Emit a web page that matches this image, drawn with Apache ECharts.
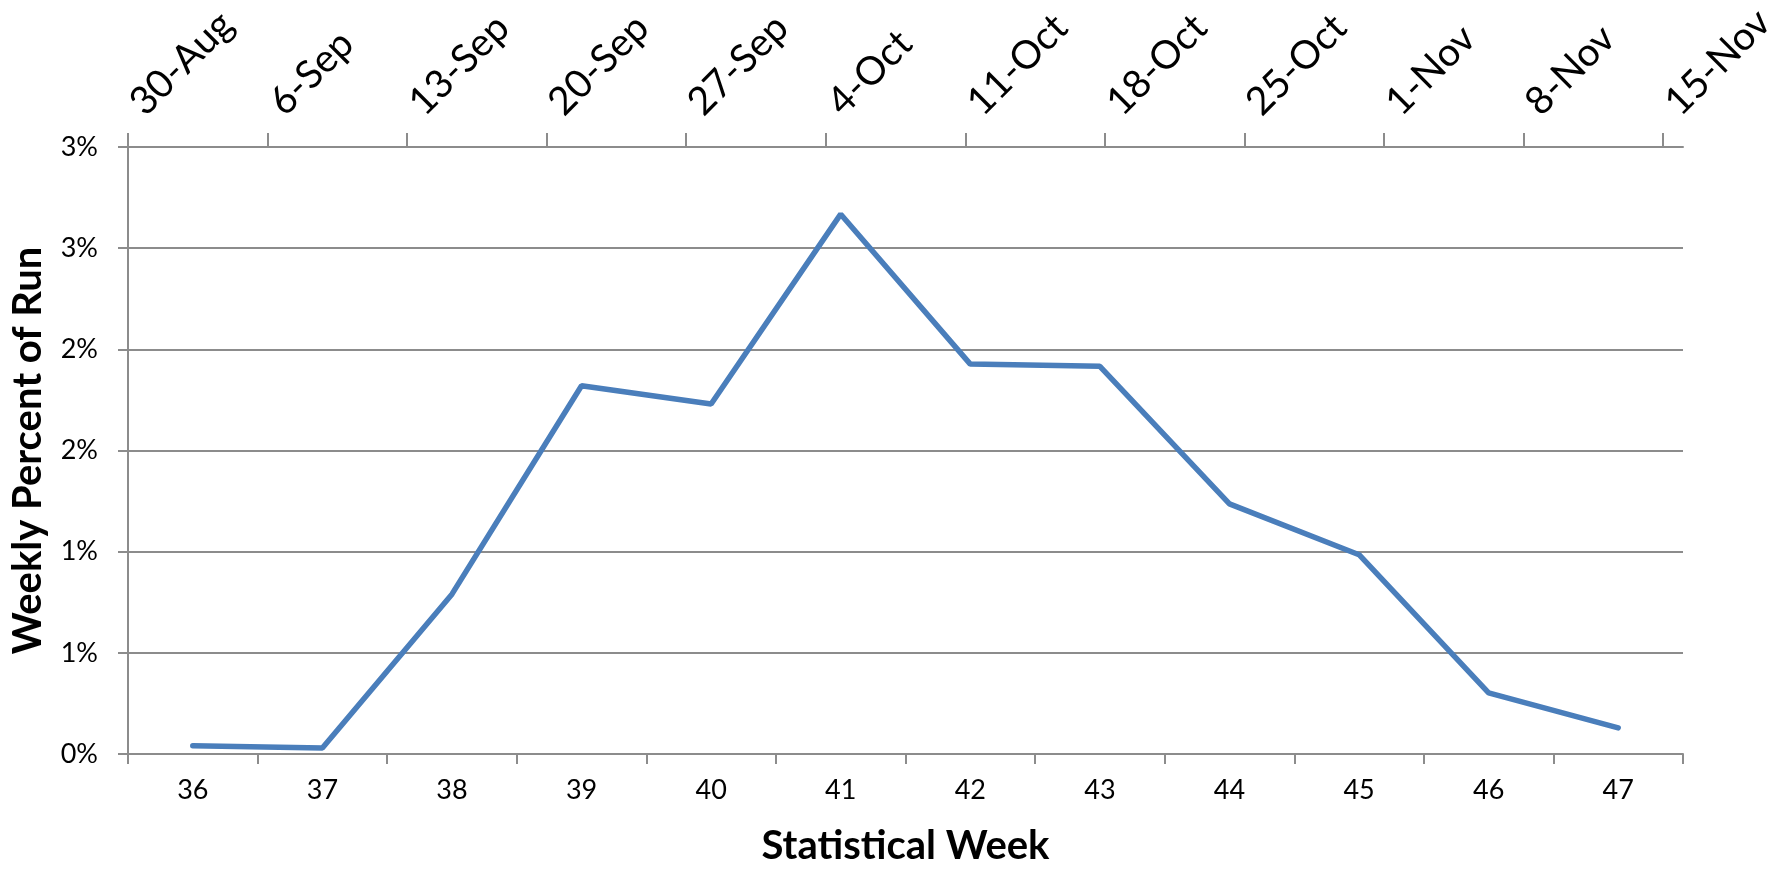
<!DOCTYPE html>
<html>
<head>
<meta charset="utf-8">
<script src="https://cdn.jsdelivr.net/npm/echarts@6/dist/echarts.min.js"></script>
<style>
html,body{margin:0;padding:0;background:#fff;}
#chart{width:1787px;height:871px;}
</style>
</head>
<body>
<div id="chart"></div>
<script>
// Statistical weeks (bottom category axis)
var weeks = ['36','37','38','39','40','41','42','43','44','45','46','47'];
// Weekly percent of run (values in %)
var weeklyPercent = [0.041, 0.030, 0.790, 1.820, 1.730, 2.668, 1.927, 1.916, 1.236, 0.985, 0.302, 0.129];
// Y tick labels (0, 0.5, 1, ... 3 % rounded to whole percent)
var yTickLabels = ['0%','1%','1%','2%','2%','3%','3%'];
// Top date axis: day offsets from 30-Aug and their labels
var dateTickDays = [0, 7, 14, 21, 28, 35, 42, 49, 56, 63, 70, 77];
var dateLabels = ['30-Aug','6-Sep','13-Sep','20-Sep','27-Sep','4-Oct','11-Oct','18-Oct','25-Oct','1-Nov','8-Nov','15-Nov'];
var dateAxisMax = 78;

var FONT = 'Lato';
var GRAY = '#8c8c8c';

var chart = echarts.init(document.getElementById('chart'), null, {renderer: 'canvas'});
chart.setOption({
  animation: false,
  backgroundColor: '#ffffff',
  grid: {left: 128, right: 104, top: 147, bottom: 114, containLabel: false},
  xAxis: [
    {
      type: 'category',
      data: weeks,
      position: 'bottom',
      boundaryGap: true,
      name: 'Statistical Week',
      nameLocation: 'middle',
      nameGap: 72,
      nameTextStyle: {fontFamily: FONT, fontSize: 40, fontWeight: 'bold', color: '#000'},
      axisLine: {show: true, lineStyle: {color: GRAY, width: 2}},
      axisTick: {show: true, alignWithLabel: false, length: 10, lineStyle: {color: GRAY, width: 2}},
      axisLabel: {fontFamily: FONT, fontSize: 27, color: '#000', margin: 23},
      splitLine: {show: false}
    },
    {
      type: 'value',
      position: 'top',
      min: 0,
      max: dateAxisMax,
      axisLine: {show: true, lineStyle: {color: GRAY, width: 2}},
      axisTick: {show: true, length: 14, customValues: dateTickDays, lineStyle: {color: GRAY, width: 2}},
      axisLabel: {
        fontFamily: FONT, fontSize: 39, color: '#000', rotate: -45, margin: 30,
        padding: [0, 0, 0, 12],
        customValues: dateTickDays,
        formatter: function (v) {
          var i = dateTickDays.indexOf(v);
          return i >= 0 ? dateLabels[i] : '';
        }
      },
      splitLine: {show: false}
    }
  ],
  yAxis: {
    type: 'value',
    min: 0,
    max: 3,
    interval: 0.5,
    name: 'Weekly Percent of Run',
    nameLocation: 'middle',
    nameGap: 80,
    nameTextStyle: {fontFamily: FONT, fontSize: 40, fontWeight: 'bold', color: '#000'},
    axisLine: {show: true, lineStyle: {color: GRAY, width: 2}},
    axisTick: {show: true, length: 10, lineStyle: {color: GRAY, width: 2}},
    axisLabel: {
      fontFamily: FONT, fontSize: 27, color: '#000', margin: 30,
      formatter: function (v) {
        return yTickLabels[Math.round(v / 0.5)];
      }
    },
    splitLine: {show: true, lineStyle: {color: GRAY, width: 2}}
  },
  series: [
    {
      type: 'line',
      xAxisIndex: 0,
      data: weeklyPercent,
      symbol: 'none',
      smooth: false,
      lineStyle: {color: '#4a7ebb', width: 5.5, cap: 'round'},
      itemStyle: {color: '#4a7ebb'}
    }
  ]
});
</script>
</body>
</html>
